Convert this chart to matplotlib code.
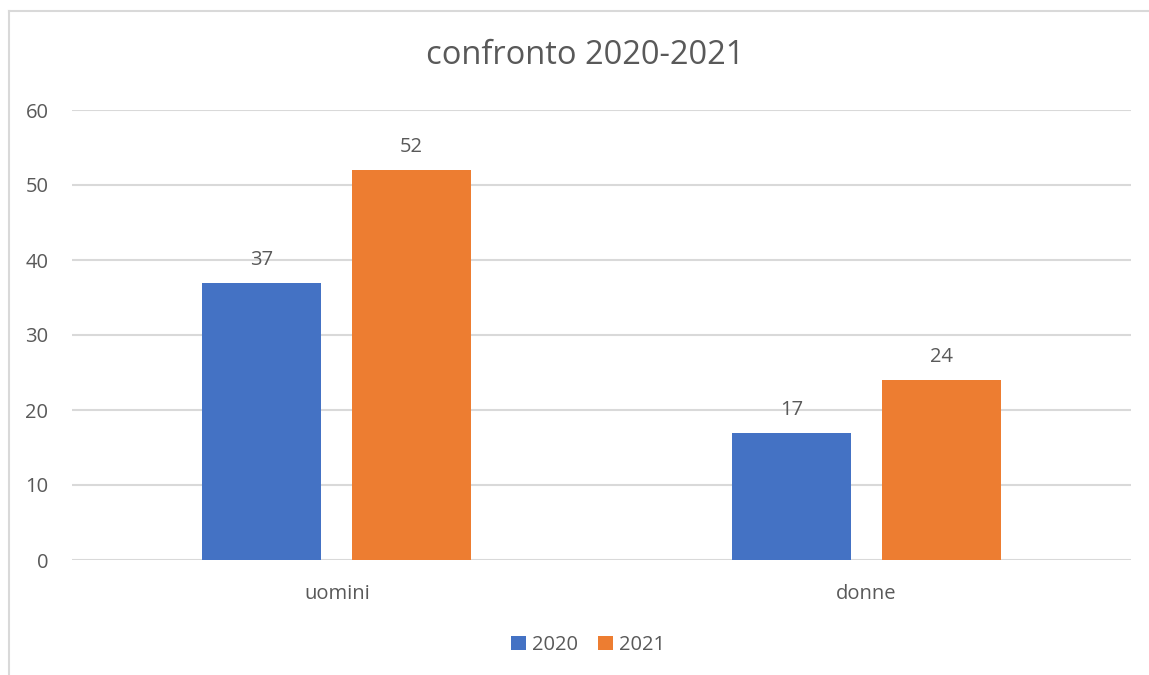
import matplotlib
matplotlib.use("Agg")
import matplotlib.pyplot as plt
from matplotlib.lines import Line2D
import numpy as np

categories = ["uomini", "donne"]
series_names = ["2020", "2021"]
values_2020 = [37, 17]
values_2021 = [52, 24]
yticks = [0, 10, 20, 30, 40, 50, 60]
colors = ["#4472C4", "#ED7D31"]
text_color = "#595959"
grid_color = "#D9D9D9"

plt.rcParams['font.family'] = ['Open Sans', 'DejaVu Sans']

W, H = 1149, 675
fig = plt.figure(figsize=(W / 100, H / 100), dpi=100)
ax = fig.add_axes([72 / W, 1 - 560 / H, 1059 / W, 450 / H])

x = np.arange(len(categories))
bw = 0.2247
off = 0.1416
for vals, name, c, o in [(values_2020, series_names[0], colors[0], -off),
                         (values_2021, series_names[1], colors[1], off)]:
    bars = ax.bar(x + o, vals, width=bw, color=c, label=name, zorder=3)
    for b, v in zip(bars, vals):
        ax.annotate(str(v), (b.get_x() + b.get_width() / 2, v), xytext=(0, 9),
                    textcoords="offset points", ha="center", va="bottom",
                    fontsize=14.5, color=text_color)

ax.set_xlim(-0.5, 1.5)
ax.set_ylim(0, 60)
ax.set_yticks(yticks)
ax.set_xticks(x)
ax.set_xticklabels(categories)
ax.grid(axis="y", color=grid_color, linewidth=1.5, zorder=0)
for s in ax.spines.values():
    s.set_visible(False)
ax.tick_params(axis="both", length=0, colors=text_color, labelsize=14.5)
ax.tick_params(axis="y", pad=17)
ax.tick_params(axis="x", pad=17)

fig.text(585 / W, 1 - 55 / H, "confronto 2020-2021", ha="center", va="center",
         fontsize=23.5, color=text_color)

handles, labels = ax.get_legend_handles_labels()
leg = fig.legend(handles, labels, loc="center", bbox_to_anchor=(588 / W, 1 - 645 / H),
                 ncol=2, frameon=False, fontsize=14.5, handlelength=0.75, handleheight=0.75,
                 handletextpad=0.3, columnspacing=1.0, labelcolor=text_color)

fig.add_artist(Line2D([8.5 / W, 8.5 / W], [0, 1 - 11 / H], transform=fig.transFigure,
                      color=grid_color, linewidth=1.5))
fig.add_artist(Line2D([8.5 / W, 1], [1 - 11 / H, 1 - 11 / H], transform=fig.transFigure,
                      color=grid_color, linewidth=1.5))

fig.savefig("out.png", dpi=100)
